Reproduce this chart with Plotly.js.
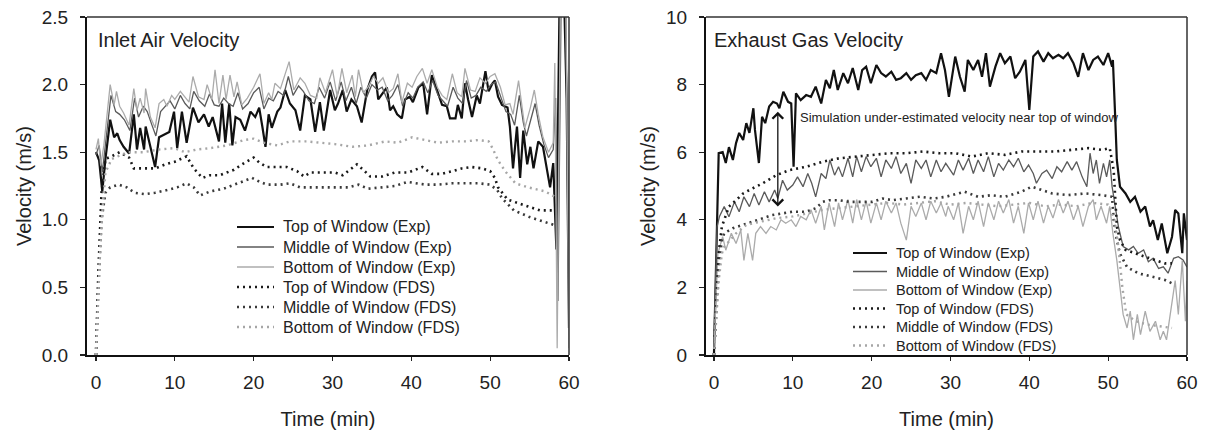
<!DOCTYPE html>
<html>
<head>
<meta charset="utf-8">
<script src="https://cdn.plot.ly/plotly-3.0.1.min.js"></script>
<style>html,body{margin:0;padding:0;background:#fff;}#chart{width:1205px;height:431px;}</style>
</head>
<body>
<div id="chart"></div>
<script>
// ---------- DATA: Inlet Air Velocity (left panel) [time min, velocity m/s] ----------
const inletTopExp = [[0,1.50],[0.4,1.44],[0.8,1.21],[1.2,1.45],[1.8,1.74],[2.3,1.61],[2.7,1.64],[3.0,1.59],[3.5,1.54],[4.2,1.49],[4.8,1.78],[5.2,1.52],[5.6,1.68],[6.1,1.52],[6.3,1.69],[6.9,1.54],[7.5,1.39],[8.0,1.61],[8.6,1.63],[9.3,1.65],[9.9,1.80],[10.3,1.53],[10.9,1.80],[11.5,1.57],[12.3,1.83],[13.0,1.72],[13.7,1.78],[14.3,1.69],[14.8,1.76],[15.6,1.58],[16.0,1.86],[16.4,1.57],[16.9,1.86],[17.3,1.55],[17.7,1.76],[18.3,1.74],[18.9,1.66],[19.6,1.80],[20.2,1.76],[20.7,1.83],[21.1,1.69],[21.5,1.54],[21.9,1.78],[22.3,1.68],[23.0,1.80],[23.4,1.83],[24.0,1.96],[24.6,1.86],[25.3,1.81],[25.9,1.66],[26.5,1.92],[27.2,1.89],[27.8,1.65],[28.4,1.87],[28.9,1.66],[29.7,1.96],[30.3,1.81],[30.7,1.86],[31.3,1.96],[31.8,1.80],[32.4,1.89],[33.1,1.84],[33.7,1.72],[34.4,1.96],[35.0,2.06],[35.4,2.09],[35.8,1.89],[36.4,1.94],[36.9,1.98],[37.3,1.81],[37.7,1.84],[38.2,1.78],[38.8,1.75],[39.2,1.89],[39.8,1.91],[40.2,1.87],[40.9,1.98],[41.5,2.01],[42.0,1.78],[42.6,2.07],[43.3,1.96],[43.9,1.85],[44.5,1.84],[44.9,1.75],[45.6,1.75],[45.9,1.85],[46.4,1.75],[46.8,2.01],[47.2,1.89],[47.7,1.76],[48.3,1.92],[48.7,1.86],[49.4,2.10],[49.8,1.95],[50.3,2.01],[50.6,2.03],[51.0,1.91],[51.5,1.85],[52.2,1.83],[52.5,1.69],[52.9,1.38],[53.4,1.69],[53.8,1.31],[54.2,1.66],[54.7,1.41],[55.1,1.54],[55.5,1.38],[56.1,1.58],[56.7,1.54],[57.2,1.38],[57.6,1.24],[58.0,1.42],[58.4,0.78],[58.8,2.60],[59.4,2.60],[59.7,1.90],[60.0,0.20]];
const inletMiddleExp = [[0,1.48],[0.4,1.55],[0.8,1.35],[1.3,1.60],[1.9,1.92],[2.5,1.80],[3.0,1.78],[3.6,1.74],[4.3,1.66],[4.9,1.90],[5.4,1.76],[6.0,1.84],[6.5,1.80],[7.1,1.70],[7.6,1.62],[8.2,1.80],[8.8,1.84],[9.4,1.88],[10.0,1.82],[10.7,1.92],[11.3,1.86],[11.9,1.82],[12.4,1.95],[13.1,1.88],[13.8,1.84],[14.4,1.93],[15.0,1.85],[15.6,1.84],[16.2,1.90],[16.8,1.86],[17.4,1.84],[18.0,1.94],[18.6,1.82],[19.3,1.86],[20.0,1.94],[20.7,1.98],[21.3,1.82],[21.9,1.90],[22.5,1.88],[23.1,1.95],[23.8,1.92],[24.4,2.06],[25.0,1.92],[25.7,1.99],[26.3,1.95],[27.0,1.88],[27.7,1.86],[28.3,1.98],[29.0,1.90],[29.7,2.02],[30.4,1.88],[31.1,2.02],[31.7,1.88],[32.4,1.98],[33.0,1.86],[33.6,1.98],[34.3,1.90],[35.0,2.00],[35.7,1.96],[36.3,1.98],[37.0,1.88],[37.6,1.92],[38.3,2.00],[38.9,1.84],[39.6,1.94],[40.2,1.90],[40.8,1.98],[41.5,2.02],[42.1,1.94],[42.7,2.03],[43.4,1.92],[44.0,1.88],[44.6,1.84],[45.3,1.98],[45.9,1.90],[46.5,1.86],[47.0,2.03],[47.6,1.90],[48.2,1.92],[48.8,1.98],[49.5,1.95],[50.1,2.00],[50.7,2.02],[51.4,1.90],[52.0,1.80],[52.6,1.78],[53.1,1.70],[53.7,1.92],[54.2,1.72],[54.6,1.62],[55.2,1.76],[55.7,1.86],[56.2,1.70],[56.8,1.56],[57.4,1.46],[58.0,1.52],[58.3,1.90],[58.6,0.40],[59.0,2.60],[59.6,2.60],[60.0,0.30]];
const inletBottomExp = [[0,1.52],[0.3,1.60],[0.6,1.40],[1.0,1.55],[1.8,2.00],[2.3,1.85],[2.6,1.95],[3.0,1.84],[3.5,1.79],[4.2,1.70],[4.8,1.97],[5.2,1.81],[5.6,1.90],[6.1,1.79],[6.3,1.97],[6.9,1.76],[7.5,1.68],[8.0,1.86],[8.6,1.89],[9.0,1.84],[9.6,1.92],[10.0,1.89],[10.7,1.95],[11.2,1.91],[11.8,1.87],[12.3,2.06],[13.0,1.91],[13.7,1.89],[14.1,2.00],[14.7,1.89],[15.1,2.11],[15.6,1.86],[16.1,2.07],[16.5,1.89],[17.0,2.07],[17.5,1.91],[17.9,2.02],[18.5,1.85],[19.2,1.90],[20.0,1.98],[20.8,2.08],[21.3,1.86],[21.9,1.94],[22.3,1.89],[22.7,2.01],[23.4,1.97],[24.5,2.17],[25.1,1.96],[25.9,2.05],[26.5,2.01],[27.2,1.92],[28.0,1.90],[28.4,2.05],[29.1,1.94],[30.0,2.11],[30.6,1.91],[31.2,2.12],[31.8,1.94],[32.5,2.07],[32.9,1.91],[33.3,2.11],[33.9,1.94],[34.5,1.98],[35.2,2.06],[35.8,2.01],[36.4,2.05],[37.1,1.94],[37.7,1.97],[38.3,2.08],[38.8,1.87],[39.5,2.01],[40.1,1.98],[40.7,2.06],[41.4,2.12],[42.0,2.01],[42.6,2.11],[43.3,1.98],[43.9,1.92],[44.5,1.89],[45.2,2.08],[45.8,1.94],[46.4,1.91],[46.8,2.12],[47.5,1.96],[48.1,1.95],[48.7,2.05],[49.4,2.01],[50.0,2.06],[50.6,2.08],[51.3,1.98],[51.9,1.85],[52.5,1.86],[52.9,1.78],[53.6,2.03],[54.1,1.80],[54.4,1.68],[55.1,1.83],[55.6,1.96],[56.1,1.78],[56.7,1.61],[57.4,1.50],[58.0,1.57],[58.2,2.16],[58.5,0.05],[58.9,2.60],[59.6,2.60],[60.0,0.05]];
const inletTopFDS = [[0,0],[0.3,0.6],[0.7,1.2],[1.2,1.45],[2.0,1.47],[3.0,1.50],[4.2,1.46],[4.8,1.38],[6.1,1.38],[7.5,1.38],[8.8,1.41],[10.0,1.43],[11.5,1.47],[12.4,1.38],[13.5,1.31],[14.5,1.33],[15.7,1.33],[17.5,1.37],[18.8,1.42],[20.0,1.46],[20.8,1.42],[21.7,1.39],[23.0,1.39],[24.2,1.39],[25.5,1.36],[26.4,1.32],[27.2,1.35],[28.4,1.35],[30.3,1.35],[31.3,1.33],[32.2,1.37],[33.1,1.41],[33.9,1.37],[34.8,1.32],[36.3,1.32],[37.9,1.35],[39.6,1.35],[40.5,1.37],[41.4,1.39],[42.6,1.34],[43.9,1.34],[45.2,1.36],[46.4,1.38],[47.7,1.39],[49.0,1.38],[50.0,1.36],[50.6,1.31],[51.0,1.24],[51.5,1.20],[52.2,1.15],[54.2,1.11],[56.3,1.07],[58.2,1.07]];
const inletMiddleFDS = [[0,0],[0.3,0.5],[0.7,1.0],[1.2,1.20],[1.8,1.24],[2.9,1.26],[3.9,1.24],[4.9,1.20],[6.2,1.19],[7.5,1.20],[9.0,1.22],[10.3,1.24],[11.5,1.27],[12.4,1.24],[13.2,1.18],[14.5,1.21],[16.2,1.23],[17.9,1.27],[19.8,1.31],[20.8,1.28],[21.7,1.26],[23.4,1.26],[24.6,1.27],[25.9,1.24],[27.7,1.24],[29.3,1.24],[30.3,1.24],[32.0,1.24],[33.3,1.26],[34.5,1.23],[36.3,1.24],[37.9,1.25],[39.5,1.28],[40.5,1.27],[41.8,1.26],[43.4,1.26],[45.2,1.27],[46.8,1.27],[48.5,1.27],[50.0,1.26],[50.9,1.22],[51.5,1.16],[53.0,1.07],[55.0,1.02],[57.0,0.98],[58.2,0.96]];
const inletBottomFDS = [[0,0],[0.2,0.3],[0.5,0.75],[0.8,1.05],[1.2,1.35],[2.0,1.45],[4.0,1.50],[6.0,1.50],[8.0,1.52],[9.9,1.53],[11.3,1.50],[12.8,1.52],[14.5,1.53],[16.6,1.55],[18.8,1.59],[20.0,1.60],[21.3,1.57],[23.0,1.55],[24.6,1.58],[26.7,1.58],[28.4,1.57],[30.3,1.56],[32.5,1.54],[34.5,1.55],[36.7,1.58],[38.3,1.57],[40.1,1.61],[41.8,1.59],[43.4,1.57],[45.2,1.58],[46.8,1.58],[48.5,1.59],[49.8,1.58],[50.3,1.53],[51.0,1.44],[51.9,1.36],[53.2,1.27],[54.8,1.24],[57.0,1.21],[58.2,1.17]];

// ---------- DATA: Exhaust Gas Velocity (right panel) ----------
const exhaustTopExp = [[0,0],[0.3,3.5],[0.6,5.97],[1.1,6.0],[1.5,5.68],[1.9,6.15],[2.4,5.77],[2.8,6.27],[3.2,6.57],[3.7,6.36],[4.1,6.86],[4.5,6.57],[5.0,7.30],[5.2,6.66],[5.7,5.68],[6.1,7.05],[6.5,6.86],[7.0,7.35],[7.5,7.49],[8.0,7.44],[8.3,7.30],[8.8,7.79],[9.4,7.49],[9.8,7.44],[10.1,5.57],[10.4,7.74],[11.0,7.54],[11.7,7.69],[12.3,7.64],[12.9,7.94],[13.6,7.44],[14.2,8.14],[14.7,7.89],[15.2,8.43],[15.7,7.84],[16.4,8.34],[17.0,8.04],[17.6,8.49],[18.3,7.84],[18.8,8.43],[19.3,8.53],[19.9,8.04],[20.6,8.58],[21.2,8.34],[21.8,8.24],[22.5,8.38],[23.1,8.14],[23.7,8.19],[24.4,8.34],[25.0,8.14],[25.6,8.28],[26.3,8.34],[26.9,8.14],[27.5,8.43],[28.2,8.34],[28.8,8.93],[29.3,8.43],[29.8,7.64],[30.6,8.83],[31.2,8.23],[31.8,7.79],[32.2,8.73],[32.9,8.43],[33.5,8.73],[34.0,8.23],[34.5,8.93],[35.0,7.94],[35.7,8.53],[36.3,8.93],[36.9,8.63],[37.6,8.83],[38.2,8.19],[38.8,8.38],[39.5,8.73],[40.0,7.25],[40.5,8.83],[41.1,8.98],[41.8,8.68],[42.4,8.93],[43.0,8.78],[43.7,8.88],[44.3,8.78],[44.9,8.93],[45.6,8.63],[46.2,8.23],[46.8,8.93],[47.5,8.43],[48.1,8.73],[48.7,8.83],[49.4,8.58],[50.0,8.93],[50.5,8.53],[50.6,8.73],[50.9,7.00],[51.1,5.77],[51.5,4.98],[52.2,4.78],[52.8,4.53],[53.4,4.68],[54.1,4.24],[54.7,4.39],[55.3,3.80],[55.7,3.99],[56.3,3.40],[56.8,3.89],[57.5,3.01],[58.1,3.50],[58.5,4.29],[58.9,4.19],[59.4,3.01],[59.6,4.19],[60.0,3.40]];
const exhaustMiddleExp = [[0,0.5],[0.4,3.8],[0.7,4.1],[1.3,4.39],[1.9,4.09],[2.6,4.53],[3.2,4.24],[3.8,4.68],[4.5,4.39],[5.1,4.78],[5.7,4.44],[6.4,4.83],[7.0,4.53],[7.7,4.88],[8.1,4.63],[8.7,5.17],[9.3,4.88],[10.0,5.03],[10.6,5.27],[11.3,4.98],[11.9,5.37],[12.4,5.08],[12.9,4.68],[13.6,5.37],[14.2,5.22],[14.7,5.77],[15.3,5.32],[15.8,5.57],[16.3,5.27],[17.0,5.82],[17.6,5.27],[18.1,5.87],[18.7,5.42],[19.3,5.87],[19.9,5.57],[20.6,5.82],[21.2,5.27],[21.8,5.77],[22.5,5.52],[23.1,5.87],[23.7,5.37],[24.4,5.67],[25.0,5.08],[25.6,5.77],[26.3,5.52],[26.9,5.77],[27.5,5.27],[28.2,5.77],[28.8,5.42],[29.4,5.67],[30.4,5.32],[31.0,5.77],[31.6,5.47],[32.3,5.82],[32.9,5.37],[33.5,5.77],[34.2,5.42],[34.8,5.87],[35.5,5.27],[36.1,5.67],[36.7,5.47],[37.4,5.77],[38.0,5.57],[38.6,5.82],[39.3,5.42],[39.9,5.62],[40.5,5.37],[40.9,5.08],[41.6,5.37],[42.2,5.47],[42.9,5.22],[43.5,5.57],[44.1,5.42],[44.8,5.72],[45.4,5.47],[46.0,5.72],[46.7,5.27],[47.3,4.98],[47.7,5.97],[48.1,5.37],[48.5,5.77],[48.9,5.08],[49.4,5.67],[49.8,5.27],[50.2,5.77],[50.5,4.98],[50.9,4.39],[51.3,3.80],[51.9,3.21],[52.6,3.11],[53.2,3.21],[53.8,3.01],[54.5,3.11],[55.1,2.76],[55.7,2.86],[56.4,2.56],[57.0,2.61],[57.6,2.42],[58.3,2.86],[58.9,2.91],[59.5,2.81],[60.0,2.60]];
const exhaustBottomExp = [[0,0.2],[0.5,3.0],[1.1,3.5],[1.5,3.1],[2.2,3.6],[2.8,3.3],[3.4,3.7],[3.8,2.8],[4.3,3.6],[4.9,2.8],[5.3,3.6],[5.9,3.8],[6.6,3.6],[7.2,3.8],[7.9,3.7],[8.5,4.0],[9.1,3.9],[9.8,4.0],[10.4,3.8],[11.0,4.1],[11.7,4.0],[12.3,4.3],[12.9,3.9],[13.6,4.4],[14.0,3.7],[14.6,4.5],[15.3,3.8],[15.8,4.5],[16.3,4.0],[17.0,4.6],[17.6,3.9],[18.1,4.6],[18.7,4.0],[19.3,4.55],[19.9,3.9],[20.6,4.5],[21.2,4.0],[21.8,4.55],[22.5,4.2],[23.1,4.5],[23.7,3.9],[24.4,3.4],[25.0,4.4],[25.6,4.1],[26.3,4.5],[26.9,4.0],[27.5,4.55],[28.2,4.2],[28.8,4.5],[29.4,4.1],[29.7,4.4],[30.4,4.0],[31.0,4.5],[31.6,3.6],[32.3,4.4],[32.9,4.0],[33.5,4.55],[34.2,3.8],[34.8,4.5],[35.5,4.0],[36.1,4.55],[36.7,4.2],[37.4,4.6],[38.0,3.9],[38.6,4.4],[39.3,3.6],[39.9,4.5],[40.5,4.0],[41.1,4.55],[41.8,3.9],[42.4,4.4],[43.0,4.05],[43.7,4.6],[44.3,4.2],[44.9,4.55],[45.6,4.0],[46.2,4.4],[46.8,3.8],[47.5,4.4],[48.1,4.6],[48.5,4.0],[49.1,4.4],[49.8,3.9],[50.2,4.4],[50.6,3.6],[51.1,2.8],[51.5,2.0],[51.9,1.2],[52.4,0.8],[52.8,1.3],[53.2,0.45],[53.7,1.2],[54.1,0.6],[54.7,1.3],[55.3,0.7],[56.0,1.0],[56.6,0.45],[57.0,0.7],[57.4,0.45],[57.9,1.3],[58.5,2.2],[58.9,1.2],[59.4,2.8],[59.8,1.0],[60.0,2.2]];
const exhaustTopFDS = [[0,0],[0.3,1.5],[0.6,3.0],[1.0,3.8],[1.3,4.0],[1.9,4.39],[2.8,4.58],[3.7,4.78],[4.9,4.93],[6.2,5.08],[7.9,5.32],[9.6,5.47],[11.7,5.57],[13.8,5.72],[15.9,5.82],[18.0,5.87],[20.1,5.92],[22.3,5.97],[24.4,5.97],[26.5,6.02],[28.6,5.97],[30.6,5.97],[32.7,5.87],[34.8,5.97],[36.9,5.92],[39.0,6.02],[41.1,6.02],[43.3,6.02],[45.4,6.07],[47.5,6.12],[49.2,6.07],[50.2,6.12],[50.7,5.47],[50.9,4.48],[51.1,3.80],[51.5,3.40],[52.2,3.11],[53.4,3.01],[54.7,2.91],[56.0,2.81],[57.2,2.71],[58.1,2.71]];
const exhaustMiddleFDS = [[0,0],[0.3,1.2],[0.6,2.6],[1.0,3.4],[1.3,3.6],[2.4,3.75],[3.7,3.85],[4.9,3.95],[6.2,4.04],[7.4,4.14],[8.7,4.19],[10.0,4.24],[11.7,4.24],[12.9,4.34],[13.8,4.53],[14.6,4.58],[15.9,4.58],[17.2,4.53],[18.4,4.53],[20.1,4.53],[21.4,4.63],[22.7,4.58],[24.4,4.63],[26.1,4.68],[27.8,4.63],[29.4,4.68],[31.8,4.83],[33.5,4.68],[35.2,4.73],[36.9,4.68],[39.0,4.83],[40.3,4.98],[41.6,4.88],[42.9,4.78],[44.9,4.73],[47.1,4.78],[49.2,4.73],[50.5,4.68],[50.7,4.00],[51.1,3.40],[51.5,3.00],[52.4,2.60],[53.8,2.42],[55.5,2.32],[57.2,2.22],[58.1,2.12]];
const exhaustBottomFDS = [[0,0],[0.3,1.0],[0.6,2.2],[1.0,3.0],[1.3,3.2],[2.8,3.6],[4.1,3.85],[6.0,3.95],[8.0,4.05],[10.0,4.10],[12.0,4.20],[14.0,4.30],[16.0,4.35],[18.0,4.40],[20.0,4.45],[22.0,4.50],[24.0,4.45],[26.0,4.50],[28.0,4.55],[30.0,4.45],[32.0,4.50],[34.0,4.45],[36.0,4.40],[38.0,4.45],[40.0,4.50],[42.0,4.40],[44.0,4.45],[46.0,4.40],[48.0,4.50],[50.0,4.45],[50.8,4.0],[51.3,3.2],[51.8,2.0],[52.3,1.2],[53.5,1.0],[55.0,0.9],[56.5,0.85],[58.1,0.8]];

const seriesNames = ["Top of Window (Exp)","Middle of Window (Exp)","Bottom of Window (Exp)","Top of Window (FDS)","Middle of Window (FDS)","Bottom of Window (FDS)"];
const inletTitle = "Inlet Air Velocity";
const exhaustTitle = "Exhaust Gas Velocity";
const noteText = "Simulation under-estimated velocity near top of window";
const arrowTop = [8.1, 7.2];
const arrowBottom = [8.1, 4.35];

// ---------- STYLES ----------
const FONT = "Arial, 'Liberation Sans', Helvetica, sans-serif";
const styles = [
  {color:'#111111', width:2.2, dash:'solid'},
  {color:'#5a5a5a', width:1.3, dash:'solid'},
  {color:'#ababab', width:1.3, dash:'solid'},
  {color:'#1a1a1a', width:2.6, dash:'2px,4px'},
  {color:'#3a3a3a', width:2.6, dash:'2px,4px'},
  {color:'#a6a6a6', width:2.4, dash:'2px,4px'}
];

function mk(data, i, xa, ya){
  return {x:data.map(p=>p[0]), y:data.map(p=>p[1]), type:'scatter', mode:'lines',
    name:seriesNames[i], xaxis:xa, yaxis:ya, showlegend:false,
    line:{color:styles[i].color, width:styles[i].width, dash:styles[i].dash}};
}
const inletSets = [inletTopExp, inletMiddleExp, inletBottomExp, inletTopFDS, inletMiddleFDS, inletBottomFDS];
const exhaustSets = [exhaustTopExp, exhaustMiddleExp, exhaustBottomExp, exhaustTopFDS, exhaustMiddleFDS, exhaustBottomFDS];
const traces = [];
inletSets.forEach((d,i)=>traces.push(mk(d,i,'x','y')));
exhaustSets.forEach((d,i)=>traces.push(mk(d,i,'x2','y2')));

const W=1205, H=431;
const px = v=>v/W, py = v=>1-v/H;

function xAxis(domain, range){
  return {domain:domain, range:range, tickvals:[0,10,20,30,40,50,60], ticks:'outside', ticklen:4, tickwidth:1.2, tickcolor:'#222',
    showline:true, linecolor:'#111', linewidth:2, mirror:false, showgrid:false, zeroline:false,
    tickfont:{family:FONT, size:19, color:'#222'}, ticklabelstandoff:5,
    title:{text:'Time (min)', font:{family:FONT, size:20, color:'#222'}, standoff:20}};
}
function yAxis(anchor, range, dtick, fmt){
  return {anchor:anchor, domain:[py(355), py(17)], range:range, dtick:dtick, tick0:0, tickformat:fmt, ticks:'outside', ticklen:5, tickwidth:1.2, tickcolor:'#222',
    showline:true, linecolor:'#111', linewidth:2, mirror:false, showgrid:false, zeroline:false,
    tickfont:{family:FONT, size:19, color:'#222'}, ticklabelstandoff:8,
    title:{text:'Velocity (m/s)', font:{family:FONT, size:20, color:'#222'}, standoff:5}};
}

// Legend drawn as key lines + text, positioned like the original
const shapes = [
  {type:'line', xref:'x domain', yref:'y domain', x0:0, x1:1, y0:1, y1:1, line:{color:'#333', width:1.5}},
  {type:'line', xref:'x domain', yref:'y domain', x0:1, x1:1, y0:0, y1:1, line:{color:'#333', width:1.5}},
  {type:'line', xref:'x2 domain', yref:'y2 domain', x0:0, x1:1, y0:1, y1:1, line:{color:'#333', width:1.5}},
  {type:'line', xref:'x2 domain', yref:'y2 domain', x0:1, x1:1, y0:0, y1:1, line:{color:'#333', width:1.5}}
];
const annotations = [
  {xref:'paper', yref:'paper', x:px(96), y:py(40), xanchor:'left', yanchor:'middle', text:inletTitle, showarrow:false, font:{family:FONT, size:20, color:'#222'}},
  {xref:'paper', yref:'paper', x:px(712), y:py(40), xanchor:'left', yanchor:'middle', text:exhaustTitle, showarrow:false, font:{family:FONT, size:20, color:'#222'}},
  {xref:'paper', yref:'paper', x:px(798), y:py(118), xanchor:'left', yanchor:'middle', text:noteText, showarrow:false, font:{family:FONT, size:13, color:'#222'}},
  {xref:'x2', yref:'y2', axref:'x2', ayref:'y2', x:arrowTop[0], y:arrowTop[1], ax:arrowBottom[0], ay:arrowBottom[1], text:'', showarrow:true,
    arrowhead:4, startarrowhead:4, arrowside:'end+start', arrowsize:1.6, startarrowsize:1.6, arrowwidth:1.3, arrowcolor:'#111', standoff:0, startstandoff:0}
];
function addLegend(x0, x1, xt, y0, dy, fs){
  seriesNames.forEach((n,i)=>{
    const yy = y0 + i*dy;
    shapes.push({type:'line', xref:'paper', yref:'paper', x0:px(x0), x1:px(x1), y0:py(yy), y1:py(yy),
      line:{color:styles[i].color, width:styles[i].width, dash:styles[i].dash}});
    annotations.push({xref:'paper', yref:'paper', x:px(xt), y:py(yy), xanchor:'left', yanchor:'middle', text:n, showarrow:false,
      font:{family:FONT, size:fs, color:'#222'}});
  });
}
addLegend(237, 274, 281, 227, 20, 16);
addLegend(853, 887, 894, 253, 18.5, 14.5);

const layout = {
  width:W, height:H, margin:{l:0,r:0,t:0,b:0}, paper_bgcolor:'#fff', plot_bgcolor:'#fff',
  font:{family:FONT, color:'#222'}, showlegend:false,
  xaxis: Object.assign(xAxis([px(87),px(569)], [-1.14,60]), {anchor:'y'}),
  yaxis: yAxis('x', [0,2.5], 0.5, '.1f'),
  xaxis2: Object.assign(xAxis([px(706),px(1187)], [-1.01,60]), {anchor:'y2'}),
  yaxis2: yAxis('x2', [0,10], 2, 'd'),
  shapes: shapes,
  annotations: annotations
};
Plotly.newPlot('chart', traces, layout, {displayModeBar:false, staticPlot:true});
</script>
</body>
</html>
